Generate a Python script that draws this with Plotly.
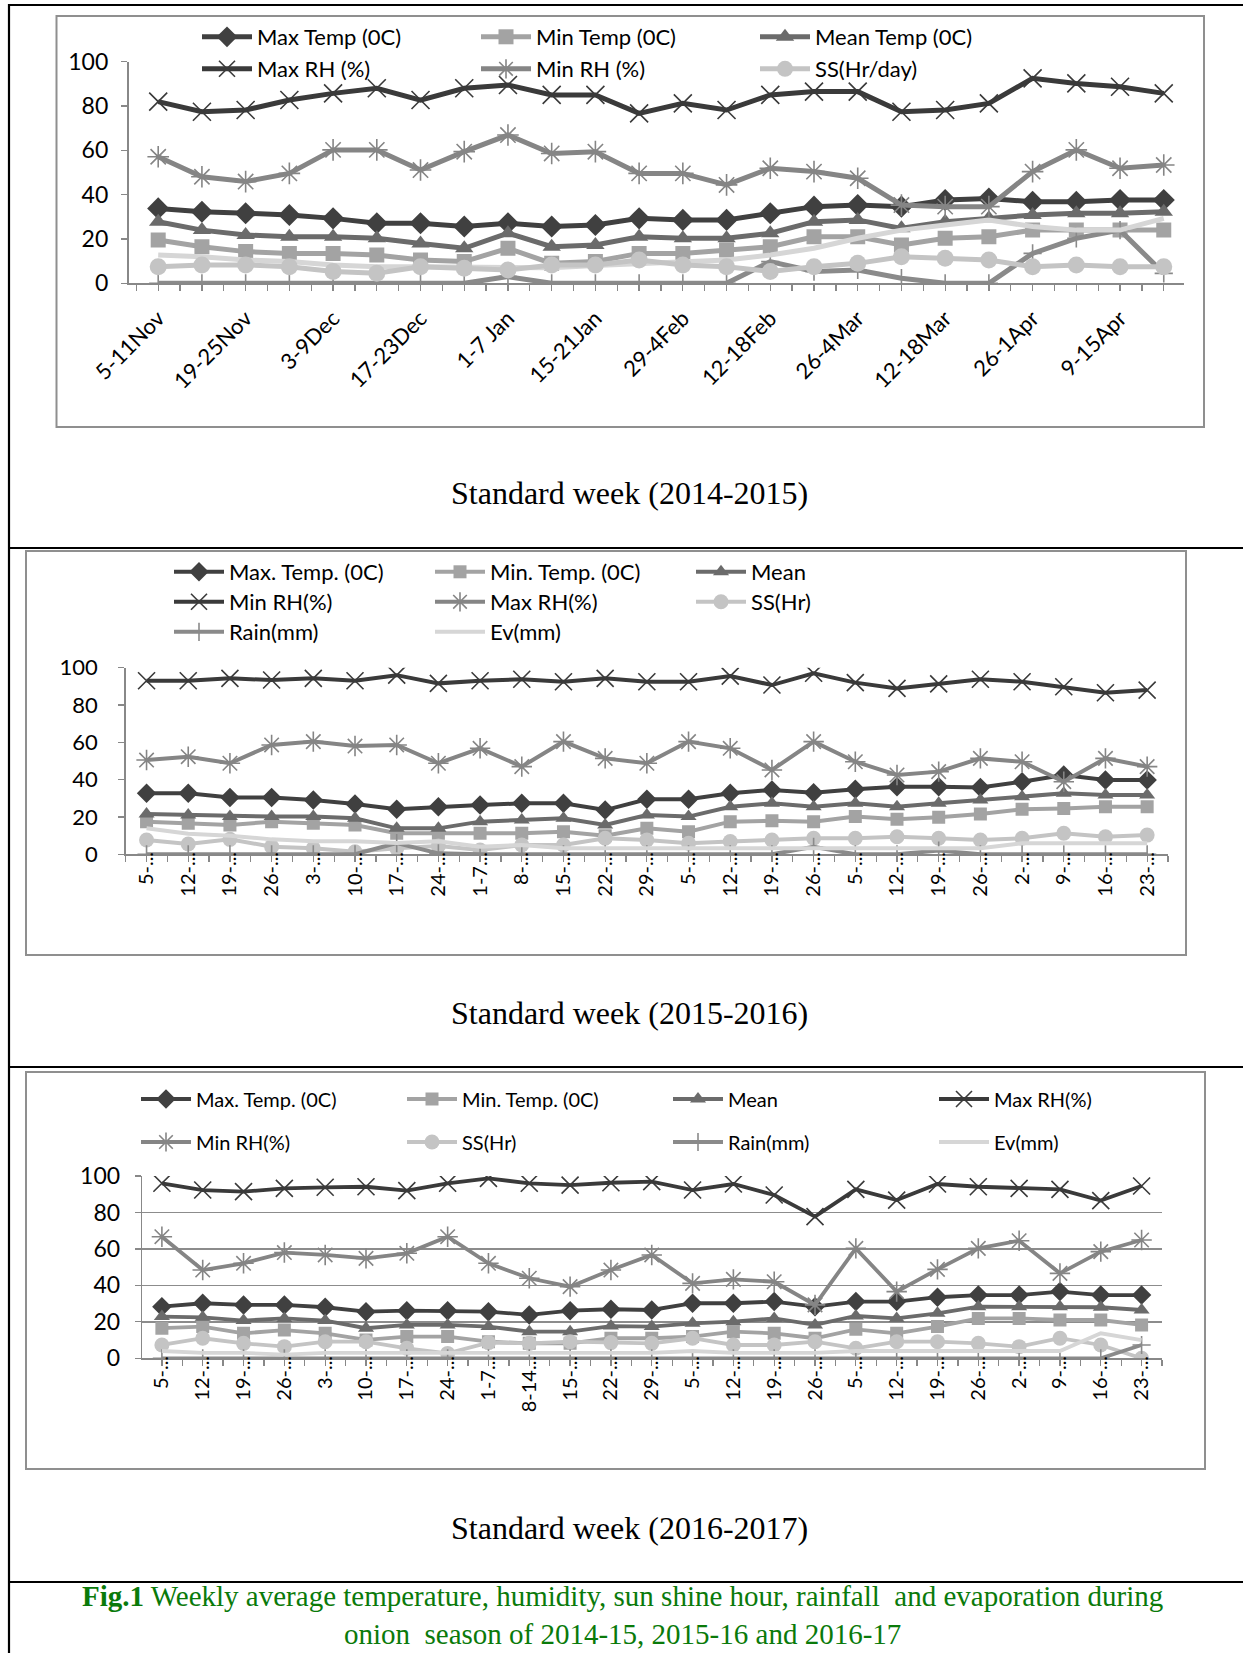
import plotly.graph_objects as go

W, H = 1243, 1653
ML, MR = 100, 40
PW = W - ML - MR


def px(x):
    return (x - ML) / PW


def py(y):
    return 1 - y / H


# ---------------- DATA ----------------
# Panel 1: 2014-2015 (24 weeks)
weeks_1415 = ["5-11Nov", "12-18Nov", "19-25Nov", "26-2Dec", "3-9Dec", "10-16Dec",
              "17-23Dec", "24-31Dec", "1-7 Jan", "8-14Jan", "15-21Jan", "22-28Jan",
              "29-4Feb", "5-11Feb", "12-18Feb", "19-25Feb", "26-4Mar", "5-11Mar",
              "12-18Mar", "19-25Mar", "26-1Apr", "2-8Apr", "9-15Apr", "16-22Apr"]
maxT_1 = [33.8, 32.3, 31.6, 30.8, 29.3, 27.1, 27.1, 25.6, 27.1, 25.6, 26.3, 29.3,
          28.6, 28.6, 31.6, 34.6, 35.3, 34.6, 37.6, 38.3, 36.8, 36.8, 37.6, 37.6]
minT_1 = [19.5, 16.5, 14.3, 13.5, 13.5, 12.8, 10.5, 9.8, 15.8, 9.0, 9.8, 13.5,
          13.5, 15.0, 16.5, 21.0, 21.0, 17.3, 20.3, 21.0, 24.0, 24.0, 24.0, 24.0]
meanT_1 = [27.8, 24.0, 21.8, 21.0, 21.0, 20.3, 18.0, 15.8, 22.6, 16.5, 17.3, 21.0,
           20.3, 20.3, 22.6, 27.8, 28.6, 24.8, 27.8, 29.3, 30.8, 31.6, 31.6, 32.3]
maxRH_1 = [82.0, 77.4, 78.2, 82.7, 85.7, 88.0, 82.7, 88.0, 89.5, 85.0, 85.0, 76.7,
           81.2, 78.2, 85.0, 86.5, 86.5, 77.4, 78.2, 81.2, 92.5, 90.2, 88.7, 85.7]
minRH_1 = [57.1, 48.1, 45.9, 49.6, 60.2, 60.2, 51.1, 59.4, 66.9, 58.6, 59.4, 49.6,
           49.6, 44.4, 51.9, 50.4, 47.4, 35.3, 34.6, 34.6, 50.4, 60.2, 51.9, 53.4]
ss_1 = [7.5, 8.3, 8.3, 7.5, 5.3, 4.5, 7.5, 6.8, 6.0, 8.3, 8.3, 10.5,
        8.3, 7.5, 5.3, 7.5, 9.0, 12.0, 11.3, 10.5, 7.5, 8.3, 7.5, 7.5]
rain_1 = [0, 0, 0, 0, 0, 0, 0, 0, 3.0, 0, 0, 0,
          0, 0, 9.8, 5.3, 6.0, 2.3, 0, 0, 13.5, 20.3, 24.0, 4.5]
ev_1 = [12.8, 12.0, 10.5, 9.8, 8.3, 7.5, 7.5, 7.5, 7.0, 7.0, 8.0, 9.0,
        9.8, 10.5, 12.8, 15.8, 20.3, 24.0, 26.3, 28.6, 25.6, 24.0, 24.0, 29.3]

# Panel 2: 2015-2016 (25 weeks, labels as truncated on the axis)
weeks_1516 = ["5-...", "12-...", "19-...", "26-...", "3-...", "10-...", "17-...",
              "24-...", "1-7...", "8-...", "15-...", "22-...", "29-...", "5-...",
              "12-...", "19-...", "26-...", "5-...", "12-...", "19-...", "26-...",
              "2-...", "9-...", "16-...", "23-..."]
maxT_2 = [32.7, 32.7, 30.5, 30.5, 29.1, 27.0, 24.1, 25.5, 26.4, 27.3, 27.3, 23.7, 29.5,
          29.5, 32.7, 34.5, 33.0, 34.8, 36.2, 36.2, 35.8, 38.9, 42.5, 39.8, 39.8]
minT_2 = [17.5, 16.6, 15.7, 17.5, 16.6, 15.7, 11.3, 11.3, 11.3, 11.3, 12.1, 10.0, 13.9,
          12.1, 17.5, 18.0, 17.5, 20.2, 18.8, 19.8, 21.6, 24.1, 24.6, 25.5, 25.5]
meanT_2 = [21.6, 21.1, 20.2, 20.2, 20.2, 19.3, 13.9, 13.9, 17.5, 18.4, 19.3, 15.7, 21.0,
           20.2, 25.5, 27.3, 25.5, 27.3, 25.5, 27.3, 29.1, 30.9, 32.7, 31.8, 31.8]
minRH_2 = [93.0, 93.0, 94.3, 93.4, 94.3, 93.0, 96.0, 91.6, 93.0, 93.8, 92.5, 94.3, 92.5,
           92.5, 95.5, 90.7, 97.0, 92.0, 88.9, 91.3, 93.8, 92.5, 89.8, 86.6, 88.0]
maxRH_2 = [50.5, 52.3, 48.8, 58.6, 60.4, 58.0, 58.6, 48.8, 56.8, 47.0, 60.4, 51.4, 48.8,
           60.4, 56.8, 45.2, 60.4, 49.6, 42.5, 44.3, 51.4, 49.6, 38.9, 51.4, 47.0]
ss_2 = [7.7, 5.5, 8.0, 4.1, 3.2, 1.4, 3.2, 4.5, 2.3, 5.0, 5.0, 8.6, 7.7,
        5.9, 6.8, 7.7, 8.6, 8.6, 9.4, 8.6, 7.7, 8.6, 11.3, 9.4, 10.3]
rain_2 = [0, 0, 0, 0, 0, 0, 6.0, 0.5, 0, 0, 0, 0, 0,
          0, 0, 0, 4.0, 0, 0, 2.0, 0, 0, 0, 0, 0]
ev_2 = [14.0, 11.0, 10.0, 8.0, 7.0, 7.0, 6.0, 7.0, 4.0, 5.0, 3.2, 3.2, 3.2,
        3.2, 3.2, 3.2, 3.2, 3.2, 3.2, 3.2, 3.2, 5.9, 5.9, 5.9, 5.9]

# Panel 3: 2016-2017 (25 weeks)
weeks_1617 = ["5-...", "12-...", "19-...", "26-...", "3-...", "10-...", "17-...",
              "24-...", "1-7...", "8-14...", "15-...", "22-...", "29-...", "5-...",
              "12-...", "19-...", "26-...", "5-...", "12-...", "19-...", "26-...",
              "2-...", "9-...", "16-...", "23-..."]
maxT_3 = [28.3, 30.2, 29.3, 29.3, 28.0, 25.6, 26.1, 26.1, 25.6, 23.8, 26.1, 26.9, 26.5,
          30.2, 30.2, 31.1, 28.3, 31.1, 31.1, 33.5, 34.7, 34.7, 36.6, 34.7, 34.7]
minT_3 = [16.5, 17.4, 13.7, 15.5, 13.7, 10.1, 11.9, 11.9, 9.1, 8.2, 8.2, 11.0, 11.0,
          11.9, 14.6, 13.7, 11.0, 15.9, 13.7, 17.4, 21.9, 21.9, 21.0, 21.0, 18.3]
meanT_3 = [22.9, 22.5, 20.7, 21.9, 20.7, 16.5, 18.3, 18.3, 17.4, 14.6, 14.6, 17.7, 17.4,
           19.2, 20.1, 21.9, 18.3, 23.2, 21.9, 24.7, 28.3, 28.3, 28.3, 28.0, 26.5]
maxRH_3 = [96.0, 92.3, 91.4, 93.2, 93.8, 94.1, 92.0, 96.0, 98.7, 96.0, 95.0, 96.3, 96.9,
           92.3, 95.6, 89.6, 77.7, 92.7, 86.8, 95.6, 94.1, 93.2, 92.7, 86.5, 94.5]
minRH_3 = [66.7, 48.4, 52.1, 58.0, 56.7, 54.8, 57.6, 66.7, 52.1, 43.9, 39.3, 48.4, 56.7,
           41.1, 43.3, 42.0, 29.3, 60.3, 36.6, 48.8, 60.3, 64.5, 46.6, 58.5, 64.9]
ss_3 = [7.3, 11.0, 8.2, 6.4, 9.1, 9.1, 5.5, 2.7, 8.6, 8.2, 9.1, 8.6, 8.2,
        11.0, 7.3, 7.3, 9.1, 5.5, 9.1, 9.1, 8.2, 6.4, 11.0, 7.3, 0.0]
rain_3 = [0, 0, 0, 0, 0, 0, 0, 0, 0, 0, 0, 0, 0,
          0, 0, 0, 0, 0, 0, 0, 0, 0, 0, 0, 7.3]
ev_3 = [4.0, 3.0, 3.0, 2.0, 3.0, 3.0, 3.0, 3.0, 3.0, 3.0, 3.0, 3.0, 3.0,
        4.0, 3.0, 3.0, 3.0, 4.0, 4.0, 4.0, 4.0, 4.0, 4.0, 13.7, 10.0]

# ---------------- STYLE ----------------
C_MAXT = "#404040"
C_MINT = "#a3a3a3"
C_MEAN = "#6b6b6b"
C_XRH = "#3a3a3a"
C_STAR = "#858585"
C_SS = "#c4c4c4"
C_RAIN = "#8a8a8a"
C_EV = "#d6d6d6"
AX = "#888888"
FONT = "Lato"

fig = go.Figure()


def add(x, y, name, color, symbol, msize, lw, xa, ya, legend, show=True, thin=False,
        mode="lines+markers"):
    if thin:
        marker = dict(symbol=symbol, size=msize, color=color,
                      line=dict(color=color, width=1.6))
    else:
        marker = dict(symbol=symbol, size=msize, color=color, line=dict(width=0))
    fig.add_trace(go.Scatter(
        x=x, y=y, name=name, mode=mode, xaxis=xa, yaxis=ya,
        line=dict(color=color, width=lw), marker=marker,
        legend=legend, showlegend=show, hoverinfo="skip"))


x1 = list(range(len(weeks_1415)))
x2 = list(range(len(weeks_1516)))
x3 = list(range(len(weeks_1617)))

# Panel 1
lw1 = 5
add(x1, maxT_1, "Max Temp (0C)", C_MAXT, "diamond", 17, lw1, "x", "y", "legend")
add(x1, minT_1, "Min Temp (0C)", C_MINT, "square", 15, lw1, "x", "y", "legend")
add(x1, meanT_1, "Mean Temp (0C)", C_MEAN, "triangle-up", 16, lw1, "x", "y", "legend")
add(x1, rain_1, "Rain(mm)", C_RAIN, "cross-thin-open", 13, lw1, "x", "y", "legend",
    show=False, thin=True)
add(x1, ev_1, "Ev(mm)", C_EV, "circle", 1, lw1, "x", "y", "legend", show=False,
    mode="lines")
add(x1, maxRH_1, "Max RH (%)", C_XRH, "x-thin-open", 18, lw1, "x", "y", "legend2",
    thin=True)
add(x1, minRH_1, "Min RH (%)", C_STAR, "asterisk-open", 18, lw1, "x", "y", "legend2",
    thin=True)
add(x1, ss_1, "SS(Hr/day)", C_SS, "circle", 17, lw1, "x", "y", "legend2")

# Panel 2
lw2 = 4
add(x2, maxT_2, "Max. Temp. (0C)", C_MAXT, "diamond", 15, lw2, "x2", "y2", "legend3")
add(x2, minT_2, "Min. Temp. (0C)", C_MINT, "square", 13, lw2, "x2", "y2", "legend3")
add(x2, meanT_2, "Mean", C_MEAN, "triangle-up", 14, lw2, "x2", "y2", "legend3")
add(x2, minRH_2, "Min RH(%)", C_XRH, "x-thin-open", 17, lw2, "x2", "y2", "legend4",
    thin=True)
add(x2, maxRH_2, "Max RH(%)", C_STAR, "asterisk-open", 17, lw2, "x2", "y2", "legend4",
    thin=True)
add(x2, ss_2, "SS(Hr)", C_SS, "circle", 15, lw2, "x2", "y2", "legend4")
add(x2, rain_2, "Rain(mm)", C_RAIN, "cross-thin-open", 13, lw2, "x2", "y2", "legend5",
    thin=True)
add(x2, ev_2, "Ev(mm)", C_EV, "circle", 1, lw2, "x2", "y2", "legend5", mode="lines")

# Panel 3
lw3 = 3.8
add(x3, maxT_3, "Max. Temp. (0C)", C_MAXT, "diamond", 15, lw3, "x3", "y3", "legend6")
add(x3, minT_3, "Min. Temp. (0C)", C_MINT, "square", 13, lw3, "x3", "y3", "legend6")
add(x3, meanT_3, "Mean", C_MEAN, "triangle-up", 14, lw3, "x3", "y3", "legend6")
add(x3, maxRH_3, "Max RH(%)", C_XRH, "x-thin-open", 17, lw3, "x3", "y3", "legend6",
    thin=True)
add(x3, minRH_3, "Min RH(%)", C_STAR, "asterisk-open", 17, lw3, "x3", "y3", "legend7",
    thin=True)
add(x3, ss_3, "SS(Hr)", C_SS, "circle", 15, lw3, "x3", "y3", "legend7")
add(x3, rain_3, "Rain(mm)", C_RAIN, "cross-thin-open", 13, lw3, "x3", "y3", "legend7",
    thin=True)
add(x3, ev_3, "Ev(mm)", C_EV, "circle", 1, lw3, "x3", "y3", "legend7", mode="lines")


# ---------------- AXES ----------------
def xaxis(dom, rng, tickvals, ticktext, angle, fsize, standoff):
    return dict(domain=[px(dom[0]), px(dom[1])], range=rng, tickmode="array",
                tickvals=tickvals, ticktext=ticktext, tickangle=angle,
                ticks="outside", ticklen=6, tickcolor=AX, tickwidth=1.3,
                showline=True, linecolor=AX, linewidth=1.6, showgrid=False,
                zeroline=False, ticklabelstandoff=standoff, automargin=False,
                tickfont=dict(family=FONT, size=fsize, color="black"),
                minor=dict(tickmode="linear", tick0=-0.5, dtick=0.5, ticks="outside",
                           ticklen=6, tickcolor=AX, tickwidth=1.3, showgrid=False),
                fixedrange=True)


def yaxis(top, bottom, xa, fsize, grid, standoff):
    return dict(domain=[py(bottom), py(top)], range=[0, 100], tickmode="linear",
                tick0=0, dtick=20, ticks="outside", ticklen=6, tickcolor=AX,
                tickwidth=1.3, showline=True, linecolor=AX, linewidth=1.6,
                showgrid=grid, gridcolor="#8c8c8c", gridwidth=1.4, zeroline=False,
                anchor=xa, ticklabelstandoff=standoff, automargin=False,
                tickfont=dict(family=FONT, size=fsize, color="black"), fixedrange=True)


sp1 = 43.72
fig.update_layout(
    xaxis=xaxis((128.5, 1184), [(128.5 - 158.2) / sp1, (1184 - 158.2) / sp1],
                x1[::2], weeks_1415[::2], -45, 22, 6),
    yaxis=yaxis(61.7, 283.3, "x", 23, False, 8),
    xaxis2=xaxis((125.7, 1168), [-0.5, 24.5], x2, weeks_1516, -90, 20, -18),
    yaxis2=yaxis(667.7, 854.3, "x2", 22, False, 16),
    xaxis3=xaxis((142.3, 1162), [-0.48, 24.5], x3, weeks_1617, -90, 20, -18),
    yaxis3=yaxis(1176, 1358.3, "x3", 23, True, 10),
)
fig.update_layout(xaxis2_anchor="y2", xaxis3_anchor="y3", xaxis_anchor="y")


# ---------------- LEGENDS ----------------
def leg(text_x, row_y, ew, fsize):
    return dict(x=px(text_x - 60), xanchor="left", y=py(row_y), yanchor="middle",
                orientation="h", entrywidth=ew, entrywidthmode="pixels", itemwidth=50,
                bgcolor="rgba(0,0,0,0)", borderwidth=0, traceorder="normal",
                itemsizing="trace", itemclick=False, itemdoubleclick=False,
                font=dict(family=FONT, size=fsize, color="black"))


fig.update_layout(
    legend=leg(257, 37, 214, 22),
    legend2=leg(257, 69, 214, 22),
    legend3=leg(229, 572, 196, 22),
    legend4=leg(229, 602, 196, 22),
    legend5=leg(229, 632, 196, 22),
    legend6=leg(196, 1099, 201, 20),
    legend7=leg(196, 1142, 201, 20),
)

# ---------------- FRAMES / LINES ----------------
shapes = []
# grey chart-area frames
for (x0, y0, x1_, y1_) in [(56.5, 16, 1204, 427), (26, 551, 1186, 955),
                           (26, 1072, 1205, 1469)]:
    shapes.append(dict(type="rect", xref="paper", yref="paper", x0=px(x0), x1=px(x1_),
                       y0=py(y1_), y1=py(y0), line=dict(color="#8f8f8f", width=2),
                       layer="below"))
# black table rules
for yy in [5, 548, 1067, 1582]:
    shapes.append(dict(type="line", xref="paper", yref="paper", x0=px(8), x1=px(W),
                       y0=py(yy), y1=py(yy), line=dict(color="black", width=2.2)))
shapes.append(dict(type="line", xref="paper", yref="paper", x0=px(9), x1=px(9),
                   y0=py(4), y1=py(H), line=dict(color="black", width=2.2)))
fig.update_layout(shapes=shapes)

# ---------------- TEXT ----------------
ann = []
for yy, t in [(493, "Standard week (2014-2015)"), (1013, "Standard week (2015-2016)"),
              (1528, "Standard week (2016-2017)")]:
    ann.append(dict(text=t, x=px(629), y=py(yy), xref="paper", yref="paper",
                    showarrow=False, xanchor="center", yanchor="middle",
                    font=dict(family="Liberation Serif", size=32, color="black")))
GREEN = "#0a7a0a"
ann.append(dict(text="<b>Fig.1</b> Weekly average temperature, humidity, sun shine hour, "
                     "rainfall\u00a0 and evaporation during<br>"
                     "onion\u00a0 season of 2014-15, 2015-16 and 2016-17",
                x=px(622), y=py(1615), xref="paper", yref="paper", showarrow=False,
                xanchor="center", yanchor="middle", align="center",
                font=dict(family="Liberation Serif", size=29, color=GREEN)))
fig.update_layout(annotations=ann)

fig.update_layout(width=W, height=H,
                  margin=dict(l=ML, r=MR, t=0, b=0, autoexpand=False),
                  paper_bgcolor="white", plot_bgcolor="rgba(0,0,0,0)",
                  hovermode=False)

fig.write_html("out.html",
               config={"displayModeBar": False, "staticPlot": True},
               post_script="document.body.style.margin='0';"
                           "document.body.style.overflow='hidden';")
